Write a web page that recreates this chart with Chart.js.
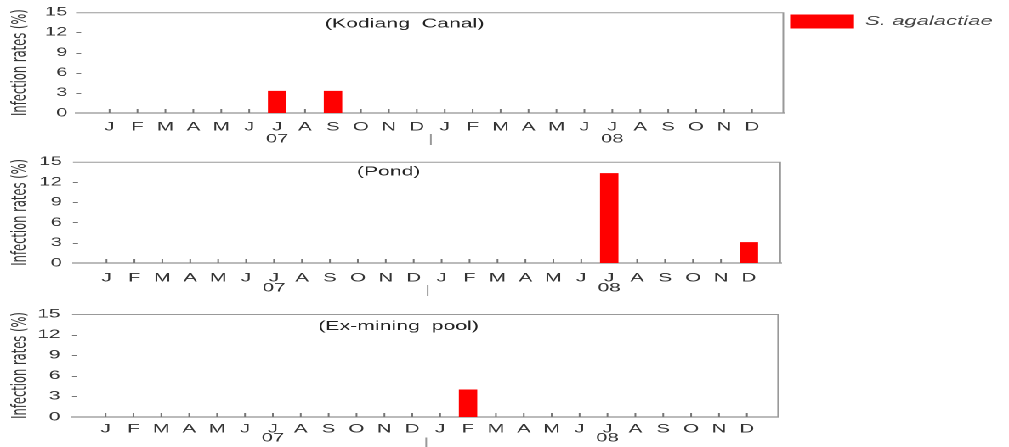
<!DOCTYPE html>
<html>
<head>
<meta charset="utf-8">
<script src="https://cdn.jsdelivr.net/npm/chart.js@4.4.1/dist/chart.umd.min.js"></script>
<style>
  html, body { margin: 0; padding: 0; background: #fff; overflow: hidden; }
  /* the original figure is stretched sideways, so the whole drawing is widened */
  #wrap { position: absolute; left: 0; top: 0; width: 594px; height: 447px; transform: scaleX(1.7); transform-origin: 0 0; }
  .panel { position: absolute; left: 0; width: 594px; }
</style>
</head>
<body>
<div id="wrap">
  <div class="panel" style="top:0px"><canvas id="chart1" width="594" height="150"></canvas></div>
  <div class="panel" style="top:148px"><canvas id="chart2" width="594" height="150"></canvas></div>
  <div class="panel" style="top:298px"><canvas id="chart3" width="594" height="149"></canvas></div>
</div>
<script>
// months Jan 2007 .. Dec 2008
var months = ['J','F','M','A','M','J','J','A','S','O','N','D','J','F','M','A','M','J','J','A','S','O','N','D'];
var yearLabels = ['07', '08'];
var yearAt = [6, 18];
var yearBreakAt = 11.5;

var kodiangCanal = [0,0,0,0,0,0,3.3,0,3.3,0,0,0, 0,0,0,0,0,0,0,0,0,0,0,0];
var pond         = [0,0,0,0,0,0,0,0,0,0,0,0, 0,0,0,0,0,0,13.3,0,0,0,0,3.1];
var exMiningPool = [0,0,0,0,0,0,0,0,0,0,0,0, 0,4.0,0,0,0,0,0,0,0,0,0,0];

var seriesName = 'S. agalactiae';
var panelNames = ['(Kodiang  Canal)', '(Pond)', '(Ex-mining  pool)'];
var yTitle = 'Infection rates (%)';
var yMax = 15;
var yStep = 3;

var barColor = '#ff0000';
var textColor = '#333';

Chart.defaults.font.family = '"Liberation Sans", Arial, sans-serif';
Chart.defaults.color = textColor;

var panelDecor = {
  id: 'panelDecor',
  beforeDatasetsDraw: function(chart, args, opts){
    var ctx = chart.ctx;
    var a = chart.chartArea;
    var x = chart.scales.x;
    var y = chart.scales.y;
    ctx.save();
    ctx.lineWidth = 1;
    ctx.strokeStyle = '#999';
    ctx.beginPath();
    ctx.moveTo(a.left, a.top + 0.5);
    ctx.lineTo(a.right, a.top + 0.5);
    ctx.moveTo(a.right - 0.5, a.top);
    ctx.lineTo(a.right - 0.5, a.bottom);
    ctx.stroke();
    // small ticks pointing into the plot
    ctx.strokeStyle = '#777';
    ctx.beginPath();
    for(var i = 0; i < x.ticks.length; i++){
      var px = x.getPixelForValue(x.ticks[i].value);
      ctx.moveTo(px, a.bottom);
      ctx.lineTo(px, a.bottom - 4);
    }
    for(var j = 0; j < y.ticks.length; j++){
      var v = y.ticks[j].value;
      if(v <= 0 || v >= yMax){
        continue;
      }
      var py = Math.round(y.getPixelForValue(v)) + 0.5;
      ctx.moveTo(a.left, py);
      ctx.lineTo(a.left + 3, py);
    }
    ctx.stroke();
    ctx.restore();
  },
  afterDraw: function(chart, args, opts){
    var ctx = chart.ctx;
    var a = chart.chartArea;
    var x = chart.scales.x;
    var y = chart.scales.y;
    ctx.save();
    ctx.textBaseline = 'middle';
    ctx.textAlign = 'center';
    ctx.fillStyle = textColor;
    ctx.font = '12px "Liberation Sans", Arial, sans-serif';
    for(var i = 0; i < yearLabels.length; i++){
      ctx.fillText(yearLabels[i], x.getPixelForValue(yearAt[i]), a.bottom + opts.yearY);
    }
    ctx.fillStyle = '#999';
    ctx.fillText('|', x.getPixelForValue(yearBreakAt), a.bottom + opts.sepY);
    ctx.textAlign = 'left';
    ctx.fillStyle = '#222';
    ctx.font = '12.5px "Liberation Sans", Arial, sans-serif';
    ctx.fillText(opts.name, x.getPixelForValue(opts.nameAt[0]), y.getPixelForValue(opts.nameAt[1]));
    ctx.restore();
  }
};

// per panel placement (in the unstretched drawing units)
var panelLayout = [
  {top: 11, axisW: 44.7, padRight: 0,     xAxisH: 37, yPad: 5,   xPad: 7, yearY: 26, sepY: 26,   nameAt: [7.71, 13.2]},
  {top: 12, axisW: 42.9, padRight: 134.6, xAxisH: 35, yPad: 6.5, xPad: 8, yearY: 25, sepY: 27,   nameAt: [8.96, 13.5]},
  {top: 16, axisW: 42.4, padRight: 135.8, xAxisH: 30, yPad: 7,   xPad: 5, yearY: 21, sepY: 25.5, nameAt: [7.63, 13.2]}
];

function makePanel(canvasId, values, idx, showLegend){
  var lay = panelLayout[idx];
  var points = [];
  for(var i = 0; i < values.length; i++){
    points.push({x: i, y: values[i]});
  }
  var ctx = document.getElementById(canvasId).getContext('2d');
  return new Chart(ctx, {
    type: 'bar',
    data: {
      datasets: [{
        label: seriesName,
        data: points,
        backgroundColor: barColor,
        borderWidth: 0,
        barPercentage: 0.66,
        categoryPercentage: 1
      }]
    },
    options: {
      responsive: false,
      devicePixelRatio: 2,
      animation: false,
      events: [],
      layout: { padding: { top: lay.top, right: lay.padRight, left: 0, bottom: 0 } },
      plugins: {
        tooltip: { enabled: false },
        legend: {
          display: showLegend,
          position: 'right',
          align: 'start',
          labels: {
            boxWidth: 37.6,
            boxHeight: 14,
            padding: 3.5,
            color: '#444',
            font: { size: 13, style: 'italic' }
          }
        },
        panelDecor: { name: panelNames[idx], nameAt: lay.nameAt, yearY: lay.yearY, sepY: lay.sepY }
      },
      scales: {
        x: {
          type: 'linear',
          bounds: 'data',
          offset: false,
          min: -1.2,
          max: 24.15,
          grid: { display: false, drawTicks: false, offset: false },
          border: { display: true, color: '#777', width: 1 },
          afterBuildTicks: function(scale){
            scale.ticks = months.map(function(m, i){ return {value: i}; });
          },
          afterFit: function(scale){
            scale.height = lay.xAxisH;
          },
          ticks: {
            autoSkip: false,
            maxRotation: 0,
            padding: lay.xPad,
            color: textColor,
            font: { size: 12 },
            callback: function(value){
              return months[value];
            }
          }
        },
        y: {
          min: 0,
          max: yMax,
          grid: { display: false, drawTicks: false },
          border: { display: false },
          afterFit: function(scale){
            scale.width = lay.axisW;
          },
          ticks: {
            stepSize: yStep,
            padding: lay.yPad,
            color: textColor,
            font: { size: 12 }
          },
          title: {
            display: true,
            text: yTitle,
            color: textColor,
            padding: { top: 5, bottom: 0 },
            font: { family: '"DejaVu Sans", sans-serif', size: 11.5 }
          }
        }
      }
    },
    plugins: [panelDecor]
  });
}

makePanel('chart1', kodiangCanal, 0, true);
makePanel('chart2', pond, 1, false);
makePanel('chart3', exMiningPool, 2, false);
</script>
</body>
</html>
